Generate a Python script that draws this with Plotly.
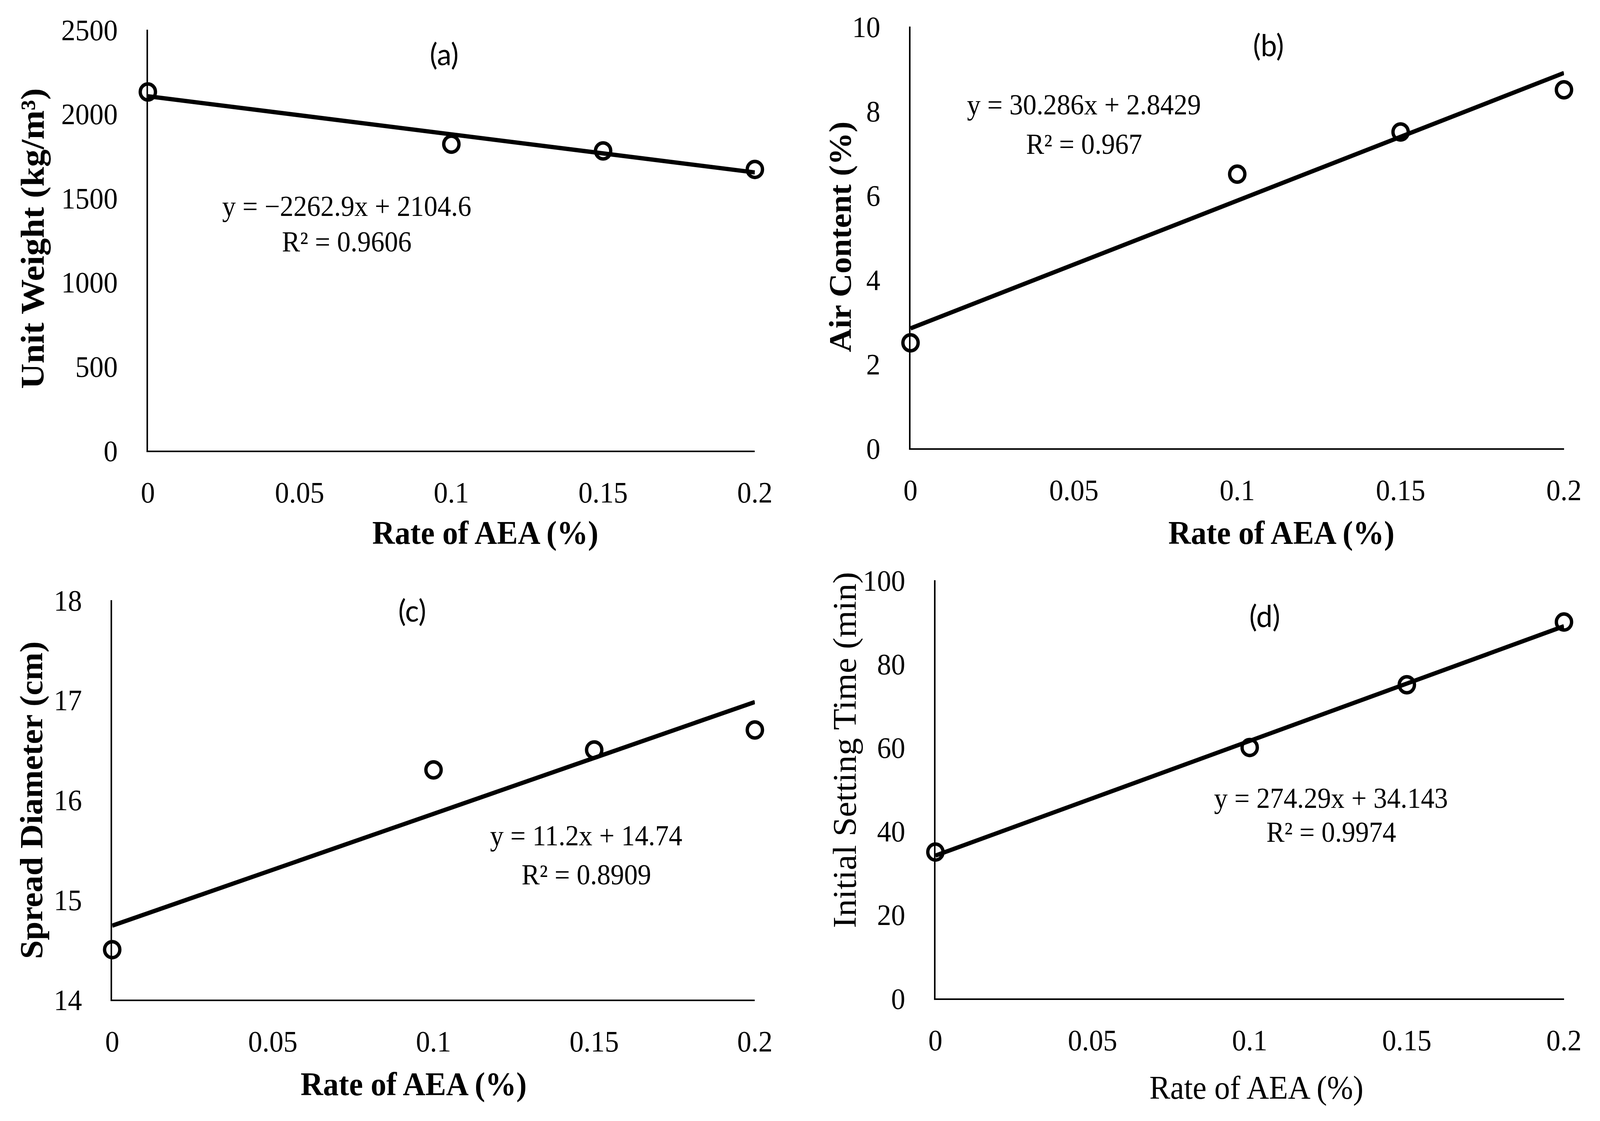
import plotly.graph_objects as go

W, H = 4307, 2871

# ---------------- data ----------------
rate = [0, 0.1, 0.15, 0.2]
unit_weight = [2130, 1820, 1780, 1670]
air_content = [2.5, 6.5, 7.5, 8.5]
spread_diameter = [14.5, 16.3, 16.5, 16.7]
setting_time = [35, 60, 75, 90]

slopes = [-2262.9, 30.286, 11.2, 274.29]
intercepts = [2104.6, 2.8429, 14.74, 34.143]
equations = ["y = −2262.9x + 2104.6", "y = 30.286x + 2.8429",
             "y = 11.2x + 14.74", "y = 274.29x + 34.143"]
r2_labels = ["R² = 0.9606", "R² = 0.967", "R² = 0.8909", "R² = 0.9974"]
panel_labels = ["(a)", "(b)", "(c)", "(d)"]
y_titles = ["Unit Weight (kg/m³)", "Air Content (%)",
            "Spread Diameter (cm)", "Initial Setting Time (min)"]
x_title = "Rate of AEA (%)"
y_ranges = [[0, 2500], [0, 10], [14, 18], [0, 100]]
y_dticks = [500, 2, 1, 20]
x_tickvals = [0, 0.05, 0.1, 0.15, 0.2]
x_ticktext = ["0", "0.05", "0.1", "0.15", "0.2"]
series = [unit_weight, air_content, spread_diameter, setting_time]

# ---------------- layout helpers (pixel boxes) ----------------
def px(x):
    return x / W

def py(y):
    return 1 - y / H

boxes = [
    (398, 2032, 76, 1154),
    (2451, 4210, 68, 1148),
    (302, 2032, 1537, 2560),
    (2518, 4210, 1486, 2557),
]
bold_titles = [True, True, True, False]
y_title_sizes = [90, 84, 86, 89]
label_pos = [(1196, 137), (3414, 114), (1109, 1562), (3404, 1576)]
eq_pos = [(933, 528), (2918, 268), (1578, 2140), (3583, 2044)]
r2_pos = [(933, 619), (2918, 369), (1578, 2240), (3583, 2131)]
xt_pos = [(1306, 1365), (3449, 1365), (1113, 2777), (3382, 2786)]
yt_pos = [(88, 611), (2262, 607), (85, 2049), (2274, 1921)]

SERIF = "Liberation Serif"
TICK_SIZE = 76
TITLE_SIZE = 84
EQ_SIZE = 73

fig = go.Figure()
annotations = []
layout_axes = {}

for i in range(4):
    n = "" if i == 0 else str(i + 1)
    xa, ya = "x" + n, "y" + n
    l, r, t, b = boxes[i]
    ys = series[i]
    # linear trendline from the stated fit
    xf = [rate[0], rate[-1]]
    yf = [slopes[i] * v + intercepts[i] for v in xf]
    fig.add_trace(go.Scatter(
        x=xf, y=yf, mode="lines", xaxis=xa, yaxis=ya,
        line=dict(color="black", width=11),
        cliponaxis=False, showlegend=False, hoverinfo="skip"))
    # measured points
    fig.add_trace(go.Scatter(
        x=rate, y=ys, mode="markers", xaxis=xa, yaxis=ya,
        marker=dict(symbol="circle-open", size=41, color="black",
                    line=dict(width=9, color="black")),
        cliponaxis=False, showlegend=False, hoverinfo="skip"))

    layout_axes["xaxis" + n] = dict(
        domain=[px(l), px(r)], range=[0, 0.2], anchor=ya,
        tickvals=x_tickvals, ticktext=x_ticktext,
        showgrid=False, zeroline=False, showline=True,
        linecolor="black", linewidth=4, ticks="", automargin=False,
        ticklabelstandoff=38,
        tickfont=dict(family=SERIF, size=TICK_SIZE, color="black"))
    layout_axes["yaxis" + n] = dict(
        domain=[py(b), py(t)], range=y_ranges[i], anchor=xa,
        dtick=y_dticks[i], tick0=y_ranges[i][0],
        showgrid=False, zeroline=False, showline=True,
        linecolor="black", linewidth=4, ticks="", automargin=False,
        ticklabelstandoff=62,
        tickfont=dict(family=SERIF, size=TICK_SIZE, color="black"))

    def txt(s, bold):
        return "<b>" + s + "</b>" if bold else s

    annotations.append(dict(
        text=panel_labels[i], x=px(label_pos[i][0]), y=py(label_pos[i][1]),
        xref="paper", yref="paper", showarrow=False,
        xanchor="center", yanchor="middle",
        font=dict(family="Lato", size=78, color="black")))
    annotations.append(dict(
        text=equations[i], x=px(eq_pos[i][0]), y=py(eq_pos[i][1]),
        xref="paper", yref="paper", showarrow=False,
        xanchor="center", yanchor="middle",
        font=dict(family=SERIF, size=EQ_SIZE, color="black")))
    annotations.append(dict(
        text=r2_labels[i], x=px(r2_pos[i][0]), y=py(r2_pos[i][1]),
        xref="paper", yref="paper", showarrow=False,
        xanchor="center", yanchor="middle",
        font=dict(family=SERIF, size=EQ_SIZE, color="black")))
    annotations.append(dict(
        text=txt(x_title, bold_titles[i]), x=px(xt_pos[i][0]), y=py(xt_pos[i][1]),
        xref="paper", yref="paper", showarrow=False,
        xanchor="center", yanchor="middle",
        font=dict(family=SERIF, size=TITLE_SIZE, color="black")))
    annotations.append(dict(
        text=txt(y_titles[i], bold_titles[i]), x=px(yt_pos[i][0]), y=py(yt_pos[i][1]),
        xref="paper", yref="paper", showarrow=False, textangle=-90,
        xanchor="center", yanchor="middle",
        font=dict(family=SERIF, size=y_title_sizes[i], color="black")))

fig.update_layout(
    width=W, height=H,
    margin=dict(l=0, r=0, t=0, b=0, autoexpand=False),
    paper_bgcolor="white", plot_bgcolor="white",
    annotations=annotations,
    **layout_axes)

# the browser viewport may be narrower than the requested 4307 px:
# scale the fixed-size figure so that it fills the viewport exactly
fit_js = (
    "document.body.style.margin='0';"
    "document.body.style.overflow='hidden';"
    "var gd=document.getElementById('{plot_id}');"
    "var sx=window.innerWidth/%d, sy=window.innerHeight/%d;"
    "gd.style.transformOrigin='0 0';"
    "gd.style.transform='scale('+sx+','+sy+')';" % (W, H)
)

fig.write_html("out.html", config={"displayModeBar": False}, post_script=fit_js)
